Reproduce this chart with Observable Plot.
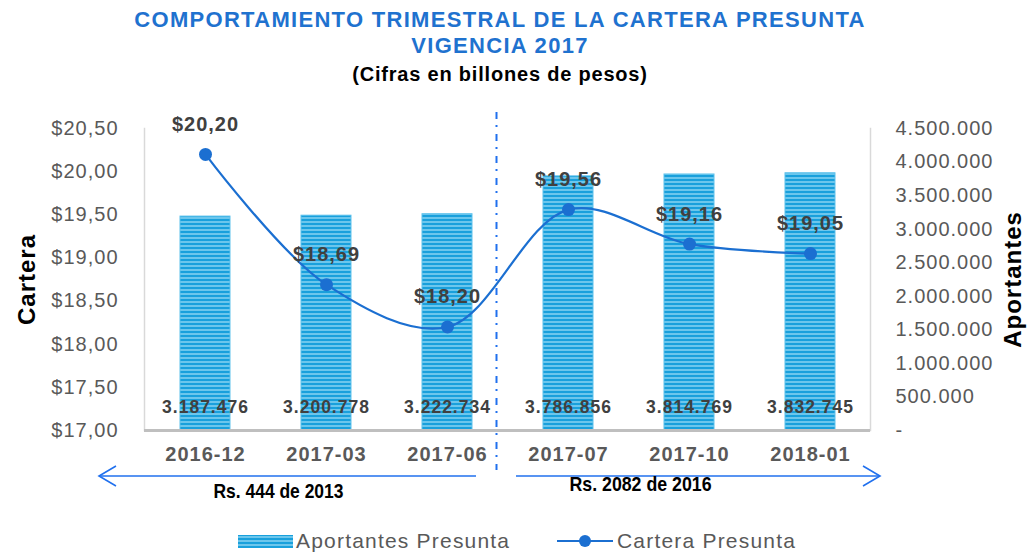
<!DOCTYPE html>
<html>
<head>
<meta charset="utf-8">
<script src="https://cdn.jsdelivr.net/npm/d3@7"></script>
<script src="https://cdn.jsdelivr.net/npm/@observablehq/plot@0.6"></script>
<style>
  html, body { margin: 0; padding: 0; background: #fff; }
  #wrap { position: relative; width: 1029px; height: 553px; font-family: "Liberation Sans", Arial, sans-serif; overflow: hidden; }
  .t { position: absolute; left: 0; width: 1000px; text-align: center; font-weight: bold; white-space: nowrap; }
  #t1 { top: 7px; line-height: 26px; font-size: 22px; color: #1f72cf; letter-spacing: 1.3px; }
  #t2 { top: 33px; line-height: 26px; font-size: 22px; color: #1f72cf; letter-spacing: 1.3px; }
  #t3 { top: 62px; line-height: 24px; font-size: 20px; color: #000; letter-spacing: 0.8px; }
  #chart { position: absolute; left: 0; top: 88px; }
  #chart svg text { letter-spacing: 1px; }
  #legend { position: absolute; left: 0; top: 526px; width: 1029px; height: 30px; font-size: 21px; color: #595959; letter-spacing: 1.2px; }
  #legend .item { position: absolute; top: 0; line-height: 30px; white-space: nowrap; }
  #legend svg { position: absolute; }
</style>
</head>
<body>
<div id="wrap">
  <div class="t" id="t1">COMPORTAMIENTO TRIMESTRAL DE LA CARTERA PRESUNTA</div>
  <div class="t" id="t2">VIGENCIA 2017</div>
  <div class="t" id="t3">(Cifras en billones de pesos)</div>
  <div id="chart"></div>
  <div id="legend">
    <svg style="left:238px;top:9px" width="56" height="13">
      <defs>
        <pattern id="stripesL" patternUnits="userSpaceOnUse" width="8" height="4">
          <rect width="8" height="4" fill="#19a0dc"></rect>
          <rect y="1.3" width="8" height="1.4" fill="#8fd6f3"></rect>
        </pattern>
      </defs>
      <rect x="0" y="0" width="55" height="13" fill="url(#stripesL)"></rect>
    </svg>
    <span class="item" style="left:296px">Aportantes Presunta</span>
    <svg style="left:556px;top:6px" width="58" height="18">
      <line x1="1" y1="9" x2="57" y2="9" stroke="#1b6fd1" stroke-width="2.2"></line>
      <circle cx="29" cy="9" r="6" fill="#1b6fd1"></circle>
    </svg>
    <span class="item" style="left:617px">Cartera Presunta</span>
  </div>
</div>
<script>
// ---- data ----
const categories = ["2016-12", "2017-03", "2017-06", "2017-07", "2017-10", "2018-01"];
const aportantes = [3187476, 3200778, 3222734, 3786856, 3814769, 3832745];
const cartera = [20.20, 18.69, 18.20, 19.56, 19.16, 19.05];
const carteraTicks = [17, 17.5, 18, 18.5, 19, 19.5, 20, 20.5];
const aportantesTicks = [0, 500000, 1000000, 1500000, 2000000, 2500000, 3000000, 3500000, 4000000, 4500000];
const leftTitle = "Cartera";
const rightTitle = "Aportantes";
const periodLabels = ["Rs. 444 de 2013", "Rs. 2082 de 2016"];

// ---- dual-axis mapping ----
const cMin = 17, cMax = 20.5, aMax = 4500000;
const toC = a => cMin + a * (cMax - cMin) / aMax;
const toA = c => Math.round((c - cMin) * aMax / (cMax - cMin));

const rows = categories.map((c, i) => ({cat: c, aport: aportantes[i], cart: cartera[i]}));

const fmtC = v => "$" + v.toFixed(2).replace(".", ",");
const fmtA = v => v === 0 ? "-" : d3.format(",")(v).replace(/,/g, ".");

const blue = "#1b6fd1";
const bright = "#2070ee";

function arrows(index, scales, values, dims) {
  const x = scales.x, bw = x.bandwidth();
  const cx = c => x(c) + bw / 2;
  const y = dims.height - dims.marginBottom + 46;
  const g = d3.create("svg:g").attr("stroke", bright).attr("stroke-width", 1.6).attr("fill", "none");
  const segs = [
    {from: cx(categories[2]) + 29, to: cx(categories[0]) - 106},
    {from: cx(categories[3]) - 52, to: cx(categories[5]) + 70}
  ];
  for (const s of segs) {
    const dir = Math.sign(s.to - s.from);
    g.append("line").attr("x1", s.from).attr("x2", s.to).attr("y1", y).attr("y2", y);
    g.append("path").attr("d", `M${s.to - dir * 17},${y - 10}L${s.to},${y}L${s.to - dir * 17},${y + 10}`);
  }
  return g.node();
}

const narrowFont = "'Liberation Sans', Arial, sans-serif";

const chart = Plot.plot({
  width: 1029,
  height: 430,
  marginLeft: 144,
  marginRight: 159,
  marginTop: 40,
  marginBottom: 88,
  style: {fontFamily: "'Liberation Sans', Arial, sans-serif", fontSize: "20px", background: "transparent", overflow: "visible"},
  x: {domain: categories, paddingInner: 0.59, paddingOuter: 0.295},
  y: {domain: [cMin, cMax]},
  marks: [
    Plot.frame({anchor: "left", stroke: "#d9d9d9", strokeWidth: 1.5}),
    Plot.frame({anchor: "right", stroke: "#d9d9d9", strokeWidth: 1.5}),
    Plot.barY(rows, {x: "cat", y1: cMin, y2: d => toC(d.aport), fill: "url(#stripes)", stroke: "#5cc1ec", strokeWidth: 1}),
    Plot.ruleY([cMin], {stroke: "#bfbfbf", strokeWidth: 3}),
    Plot.axisY(carteraTicks, {anchor: "left", tickSize: 0, tickPadding: 26, tickFormat: fmtC, label: null, color: "#595959", fontSize: 20}),
    Plot.axisY(aportantesTicks.map(toC), {anchor: "right", tickSize: 0, tickPadding: 25, tickFormat: v => fmtA(toA(v)), label: null, color: "#595959", fontSize: 20}),
    Plot.axisX({tickSize: 0, tickPadding: 16, label: null, fontWeight: "bold", color: "#595959", fontSize: 20}),
    Plot.text([leftTitle], {frameAnchor: "left", rotate: -90, dx: -117, textAnchor: "middle", text: d => d, fontWeight: "bold", fontSize: 24, fill: "#000"}),
    Plot.text([rightTitle], {frameAnchor: "right", rotate: -90, dx: 143, textAnchor: "middle", text: d => d, fontWeight: "bold", fontSize: 24, fill: "#000"}),
    Plot.ruleX([categories[2]], {dx: 49, y1: 20.685, y2: 16.536, stroke: bright, strokeWidth: 2, strokeDasharray: "7,6,2,7"}),
    Plot.text(rows, {x: "cat", y: cMin, dy: -23, text: d => fmtA(d.aport), fontWeight: "bold", fontSize: 17.5, fill: "#404040"}),
    Plot.line(rows, {x: "cat", y: "cart", stroke: blue, strokeWidth: 2.2, curve: "catmull-rom"}),
    Plot.dot(rows, {x: "cat", y: "cart", r: 6.5, fill: blue, stroke: null}),
    Plot.text(rows, {x: "cat", y: "cart", dy: -30, text: d => fmtC(d.cart), fontWeight: "bold", fontSize: 20, fill: "#404040"}),
    arrows,
    Plot.text([periodLabels[0]], {x: () => categories[1], frameAnchor: "bottom", dx: -48, dy: 67, text: d => d, fontWeight: "bold", fontSize: 20.5, fill: "#000", fontFamily: narrowFont, className: "narrow1"}),
    Plot.text([periodLabels[1]], {x: () => categories[4], frameAnchor: "bottom", dx: -49, dy: 60, text: d => d, fontWeight: "bold", fontSize: 20.5, fill: "#000", fontFamily: narrowFont, className: "narrow2"})
  ]
});

d3.select(chart).insert("defs", ":first-child").html(`
  <pattern id="stripes" patternUnits="userSpaceOnUse" width="8" height="4">
    <rect width="8" height="4" fill="#19a0dc"></rect>
    <rect y="1.3" width="8" height="1.4" fill="#8fd6f3"></rect>
  </pattern>`);

// condensed look for the period labels
d3.select(chart).selectAll(".narrow1 text").attr("textLength", 130).attr("lengthAdjust", "spacingAndGlyphs").style("letter-spacing", "0px");
d3.select(chart).selectAll(".narrow2 text").attr("textLength", 142).attr("lengthAdjust", "spacingAndGlyphs").style("letter-spacing", "0px");

document.getElementById("chart").appendChild(chart);
</script>
</body>
</html>
